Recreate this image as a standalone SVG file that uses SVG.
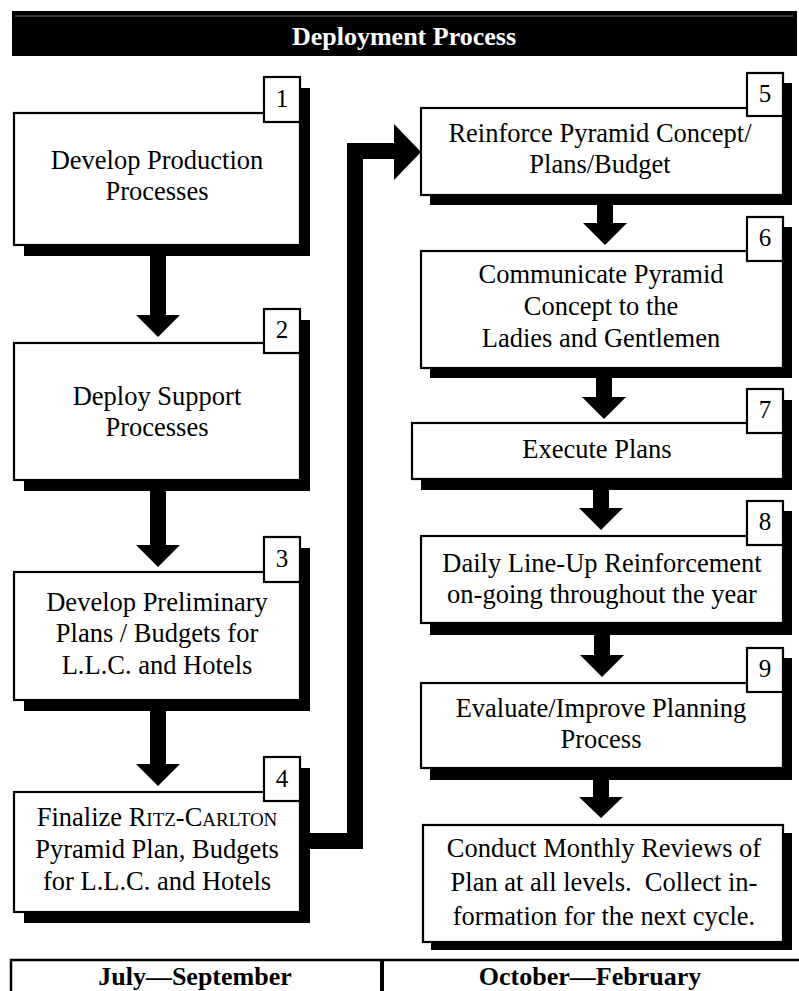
<svg xmlns="http://www.w3.org/2000/svg" width="799" height="991" viewBox="0 0 799 991">
  <style>
    .box { fill: #fff; stroke: #000; stroke-width: 2.2; }
    .num { fill: #fff; stroke: #000; stroke-width: 2.2; }
    .shadow { fill: #000; }
    .label { font-family: "Liberation Serif", "Times New Roman", serif; font-size: 26.5px; fill: #000; text-anchor: middle; white-space: pre; }
    .digit { font-family: "Liberation Serif", "Times New Roman", serif; font-size: 25px; fill: #000; text-anchor: middle; }
    .head { font-family: "Liberation Serif", "Times New Roman", serif; font-size: 26px; font-weight: bold; text-anchor: middle; }
    .arrow { fill: #000; }
    .sc { font-variant: small-caps; }
  </style>

  <!-- title bar -->
  <g id="title">
    <rect x="12" y="11" width="785" height="45" fill="#000"/>
    <line x1="15" y1="16" x2="793" y2="16" stroke="#6a6a6a" stroke-width="1"/>
    <text class="head" x="404" y="45" fill="#fff">Deployment Process</text>
  </g>

  <!-- left column -->
  <g id="step1">
    <rect class="shadow" x="24" y="124" width="286" height="132"/>
    <rect class="shadow" x="274" y="88" width="36" height="45"/>
    <rect class="box" x="14" y="113" width="286" height="132"/>
    <rect class="num" x="264" y="77" width="36" height="45"/>
    <text class="digit" x="282" y="107">1</text>
    <text class="label" x="157" y="169">Develop Production</text>
    <text class="label" x="157" y="200">Processes</text>
  </g>

  <g id="step2">
    <rect class="shadow" x="24" y="354" width="286" height="137"/>
    <rect class="shadow" x="274" y="320" width="36" height="44"/>
    <rect class="box" x="14" y="343" width="286" height="137"/>
    <rect class="num" x="264" y="309" width="36" height="44"/>
    <text class="digit" x="282" y="338">2</text>
    <text class="label" x="157" y="405">Deploy Support</text>
    <text class="label" x="157" y="436">Processes</text>
  </g>

  <g id="step3">
    <rect class="shadow" x="24" y="583" width="286" height="128"/>
    <rect class="shadow" x="274" y="548" width="36" height="45"/>
    <rect class="box" x="14" y="572" width="286" height="128"/>
    <rect class="num" x="264" y="537" width="36" height="45"/>
    <text class="digit" x="282" y="567">3</text>
    <text class="label" x="157" y="611">Develop Preliminary</text>
    <text class="label" x="157" y="642">Plans / Budgets for</text>
    <text class="label" x="157" y="674">L.L.C. and Hotels</text>
  </g>

  <g id="step4">
    <rect class="shadow" x="24" y="803" width="286" height="120"/>
    <rect class="shadow" x="274" y="768" width="36" height="44"/>
    <rect class="box" x="14" y="792" width="286" height="120"/>
    <rect class="num" x="264" y="757" width="36" height="44"/>
    <text class="digit" x="282" y="787">4</text>
    <text class="label" x="157" y="826">Finalize <tspan class="sc">Ritz-Carlton</tspan></text>
    <text class="label" x="157" y="858">Pyramid Plan, Budgets</text>
    <text class="label" x="157" y="890">for L.L.C. and Hotels</text>
  </g>

  <!-- right column -->
  <g id="step5">
    <rect class="shadow" x="430" y="118" width="362" height="87"/>
    <rect class="shadow" x="756" y="83" width="36" height="43"/>
    <rect class="box" x="421" y="108" width="362" height="87"/>
    <rect class="num" x="747" y="73" width="36" height="43"/>
    <text class="digit" x="765" y="102">5</text>
    <text class="label" x="600" y="142">Reinforce Pyramid Concept/</text>
    <text class="label" x="600" y="173">Plans/Budget</text>
  </g>

  <g id="step6">
    <rect class="shadow" x="430" y="261" width="362" height="117"/>
    <rect class="shadow" x="756" y="227" width="36" height="44"/>
    <rect class="box" x="421" y="251" width="362" height="117"/>
    <rect class="num" x="747" y="217" width="36" height="44"/>
    <text class="digit" x="765" y="246">6</text>
    <text class="label" x="601" y="283">Communicate Pyramid</text>
    <text class="label" x="601" y="315">Concept to the</text>
    <text class="label" x="601" y="347">Ladies and Gentlemen</text>
  </g>

  <g id="step7">
    <rect class="shadow" x="421" y="433" width="371" height="57"/>
    <rect class="shadow" x="756" y="400" width="36" height="44"/>
    <rect class="box" x="412" y="423" width="371" height="56"/>
    <rect class="num" x="747" y="389" width="36" height="44"/>
    <text class="digit" x="765" y="418">7</text>
    <text class="label" x="597" y="458">Execute Plans</text>
  </g>

  <g id="step8">
    <rect class="shadow" x="430" y="547" width="362" height="88"/>
    <rect class="shadow" x="756" y="511" width="36" height="44"/>
    <rect class="box" x="421" y="536" width="362" height="87"/>
    <rect class="num" x="747" y="501" width="36" height="44"/>
    <text class="digit" x="765" y="530">8</text>
    <text class="label" x="602" y="572">Daily Line-Up Reinforcement</text>
    <text class="label" x="602" y="603">on-going throughout the year</text>
  </g>

  <g id="step9">
    <rect class="shadow" x="430" y="694" width="362" height="86"/>
    <rect class="shadow" x="756" y="658" width="36" height="44"/>
    <rect class="box" x="421" y="683" width="362" height="85"/>
    <rect class="num" x="747" y="648" width="36" height="44"/>
    <text class="digit" x="765" y="677">9</text>
    <text class="label" x="601" y="717">Evaluate/Improve Planning</text>
    <text class="label" x="601" y="748">Process</text>
  </g>

  <g id="step10">
    <rect class="shadow" x="431" y="833" width="361" height="117"/>
    <rect class="box" x="423" y="825" width="360" height="117"/>
    <text class="label" x="604" y="857">Conduct Monthly Reviews of</text>
    <text class="label" x="604" y="891">Plan at all levels.  Collect in-</text>
    <text class="label" x="604" y="925">formation for the next cycle.</text>
  </g>

  <!-- connectors -->
  <g id="connectors">
    <!-- left column, downward -->
    <polygon class="arrow" points="150,256 166,256 166,315 180,315 158,337 136,315 150,315"/>
    <polygon class="arrow" points="150,490 166,490 166,545 180,545 158,567 136,545 150,545"/>
    <polygon class="arrow" points="150,711 166,711 166,764 180,764 158,786 136,764 150,764"/>
    <!-- step 4 to step 5 -->
    <path class="arrow" d="M310,833 L347,833 L347,143 L394,143 L394,124 L421,152 L394,180 L394,159 L363,159 L363,849 L310,849 Z"/>
    <!-- right column, downward -->
    <polygon class="arrow" points="597,205 613,205 613,223 627,223 605,245 583,223 597,223"/>
    <polygon class="arrow" points="596,378 612,378 612,397 626,397 604,419 582,397 596,397"/>
    <polygon class="arrow" points="593,490 609,490 609,508 623,508 601,530 579,508 593,508"/>
    <polygon class="arrow" points="594,635 610,635 610,655 624,655 602,677 580,655 594,655"/>
    <polygon class="arrow" points="593,780 609,780 609,797 623,797 601,818 579,797 593,797"/>
  </g>

  <!-- period table -->
  <g id="periods">
    <line x1="10" y1="960" x2="799" y2="960" stroke="#000" stroke-width="2.5"/>
    <line x1="11" y1="959" x2="11" y2="991" stroke="#000" stroke-width="2.5"/>
    <line x1="382" y1="959" x2="382" y2="991" stroke="#000" stroke-width="4"/>
    <text class="head" x="195" y="985" fill="#000">July—September</text>
    <text class="head" x="590" y="985" fill="#000">October—February</text>
  </g>
</svg>
